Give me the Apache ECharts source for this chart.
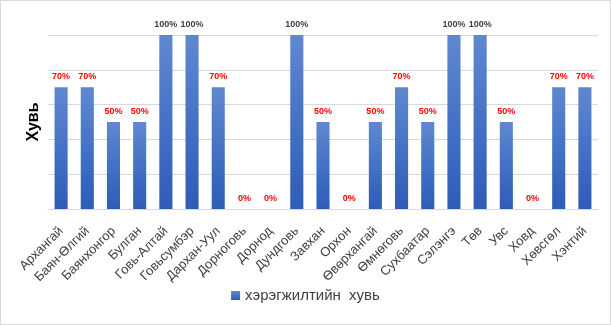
<!DOCTYPE html>
<html><head><meta charset="utf-8">
<script src="https://cdn.jsdelivr.net/npm/echarts@6/dist/echarts.min.js"></script>
<style>html,body{margin:0;padding:0;background:#fff}#c{width:611px;height:325px;box-sizing:border-box;border:1px solid #d9d9d9}</style>
</head><body><div id="c"></div>
<script>
const categories = ["Архангай","Баян-Өлгий","Баянхонгор","Булган","Говь-Алтай","Говьсумбэр","Дархан-Уул","Дорноговь","Дорнод","Дундговь","Завхан","Орхон","Өвөрхангай","Өмнөговь","Сухбаатар","Сэлэнгэ","Төв","Увс","Ховд","Хөвсгөл","Хэнтий"];
const values = [70,70,50,50,100,100,70,0,0,100,50,0,50,70,50,100,100,50,0,70,70];
const seriesName = "хэрэгжилтийн  хувь";
const axisTitle = "Хувь";

const chart = echarts.init(document.getElementById('c'), null, {renderer:'canvas'});
chart.setOption({
  animation:false,
  grid:{left:47,right:12,top:34,bottom:115},
  legend:{bottom:16,left:'center',itemWidth:9,itemHeight:9,itemGap:10,icon:'rect',
    textStyle:{fontFamily:'Liberation Sans',fontSize:15,color:'#404040'}},
  xAxis:{type:'category',data:categories,
    axisLine:{lineStyle:{color:'#d9d9d9'}},axisTick:{show:false},
    axisLabel:{interval:0,rotate:45,fontFamily:'Liberation Sans',fontSize:13,color:'#404040',margin:20}},
  yAxis:{type:'value',min:0,max:100,interval:20,
    name:axisTitle,nameLocation:'middle',nameGap:6,
    nameTextStyle:{fontFamily:'Liberation Sans',fontSize:16,fontWeight:'bold',color:'#000'},
    axisLabel:{show:false},axisLine:{show:false},axisTick:{show:false},
    splitLine:{lineStyle:{color:'#d9d9d9',width:1}}},
  series:[{name:seriesName,type:'bar',barWidth:'50%',
    itemStyle:{color:new echarts.graphic.LinearGradient(0,0,0,1,[{offset:0,color:'#6088d0'},{offset:0.5,color:'#4472c4'},{offset:1,color:'#2e5cb8'}])},
    data:values.map(v=>({value:v,label:{color:v===100?'#404040':'#ff0000'}})),
    label:{show:true,position:'top',distance:6,formatter:'{c}%',fontFamily:'Liberation Sans',fontSize:9,fontWeight:'bold'}
  }]
});
</script></body></html>
